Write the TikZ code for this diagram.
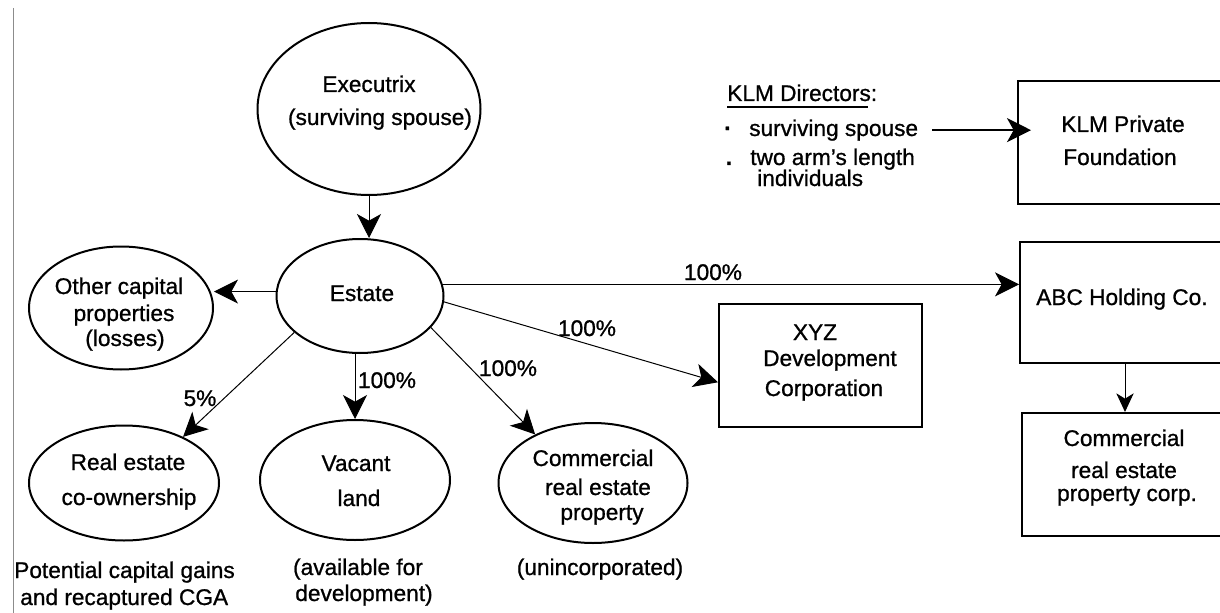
\documentclass[tikz,border=0pt]{standalone}
\usepackage{fontspec}
\setmainfont{Liberation Sans}[FakeBold=0.9]
\usetikzlibrary{arrows.meta,shapes.geometric,calc}
\begin{document}
\begin{tikzpicture}[x=0.75pt,y=-0.75pt,
  font=\fontsize{17}{20}\selectfont,
  ell/.style={draw,ellipse,line width=1.5pt,inner sep=0pt},
  box/.style={draw,rectangle,line width=1.5pt,inner sep=0pt},
  txt/.style={inner sep=0pt,anchor=base},
  txtl/.style={inner sep=0pt,anchor=base west},
  con/.style={line width=0.75pt,-{Stealth[length=18pt,width=18pt,inset=5pt]}},
  consmall/.style={line width=0.75pt,-{Stealth[length=14pt,width=13pt,inset=4pt]}},
  conthick/.style={line width=1.6pt,-{Stealth[length=18pt,width=18pt,inset=5pt]}}]
\useasboundingbox (0,0) rectangle (1220,613);
\clip (0,0) rectangle (1220,613);
\draw[black!45,line width=0.75pt] (13,8) -- (13,613);
% ellipses
\node[ell,minimum width=167.25pt,minimum height=129pt] (exe) at (369,109) {};
\node[ell,minimum width=125.25pt,minimum height=85.5pt] (est) at (360,296) {};
\node[ell,minimum width=138pt,minimum height=92.25pt] (oth) at (121,308) {};
\node[ell,minimum width=142.5pt,minimum height=86.25pt] (re) at (124,483) {};
\node[ell,minimum width=142.5pt,minimum height=90pt] (vac) at (355,480) {};
\node[ell,minimum width=141.75pt,minimum height=90pt] (com) at (593,483) {};
% boxes
\node[box,minimum width=152.25pt,minimum height=92.25pt] (xyz) at (820.5,365.5) {};
\node[box,minimum width=157.5pt,minimum height=92.25pt] (klm) at (1123,142.5) {};
\node[box,minimum width=157.5pt,minimum height=90.75pt] (abc) at (1125,302.5) {};
\node[box,minimum width=154.5pt,minimum height=92.25pt] (corp) at (1125,474.5) {};
% texts
\node[txt] (t1) at (369,92) {Executrix};
\node[txt] (t2) at (380,125) {(surviving spouse)};
\node[txt] (t3) at (362,301) {Estate};
\node[txt] (t4) at (119,294) {Other capital};
\node[txt] (t5) at (124,321) {properties};
\node[txt] (t6) at (125,346) {(losses)};
\node[txt] (t7) at (128,470) {Real estate};
\node[txt] (t8) at (129,505) {co-ownership};
\node[txt] (t9) at (356,471) {Vacant};
\node[txt] (t10) at (359,506) {land};
\node[txt] (t11) at (593,466) {Commercial};
\node[txt] (t12) at (598,495) {real estate};
\node[txt] (t13) at (602,520) {property};
\node[txtl] (t14) at (14,578) {Potential capital gains};
\node[txtl] (t15) at (20,605) {and recaptured CGA};
\node[txt] (t16) at (358,575) {(available for};
\node[txt] (t17) at (364,601) {development)};
\node[txt] (t18) at (600,575) {(unincorporated)};
\node[txt] (t19) at (815,340) {XYZ};
\node[txt] (t20) at (830,366) {Development};
\node[txt] (t21) at (824,396) {Corporation};
\node[txt] (t22) at (1123,132) {KLM Private};
\node[txt] (t23) at (1120,165) {Foundation};
\node[txtl] (t24) at (1036,305) {ABC Holding Co.};
\node[txt] (t25) at (1124,446) {Commercial};
\node[txt] (t26) at (1124,478) {real estate};
\node[txt] (t27) at (1127,501) {property corp.};
\node[txtl] (dh) at (727,101) {KLM Directors:};
\node[txtl] (d1) at (749,136) {surviving spouse};
\node[txtl] (d2) at (750,165) {two arm’s length};
\node[txtl] (d3) at (757,186) {individuals};
\node[txt] (b1) at (728,136) {\textbf{·}};
\node[txt] (b2) at (729,165) {\textbf{.}};
\draw[line width=1.3pt] ([yshift=-4.5pt]dh.base west) -- ([yshift=-4.5pt,xshift=-6.75pt]dh.base east);
% labels
\node[txt] (p1) at (713,280) {100\%};
\node[txt] (p2) at (587,336) {100\%};
\node[txt] (p3) at (508,376) {100\%};
\node[txt] (p4) at (387,388) {100\%};
\node[txt] (p5) at (200,406) {5\%};
% connectors
\draw[con] (exe.south) -- (exe.south |- est.north);
\draw[con] (est.177) -- (est.177 -| oth.east);
\draw[con] (est.8) -- (est.8 -| abc.west);
\draw[con] (est.-4) -- ($(xyz.south west)!0.366!(xyz.north west)$);
\draw[con] (est.209) -- (re.38);
\draw[con] (vac.north |- est.south) -- (vac.north);
\draw[con] (est.-24) -- (com.140);
\draw[consmall] (abc.south) -- (corp.north);
\draw[conthick] ([xshift=10.5pt]d1.east) -- ([xshift=10.5pt]d1.east -| klm.west);
\end{tikzpicture}
\end{document}
